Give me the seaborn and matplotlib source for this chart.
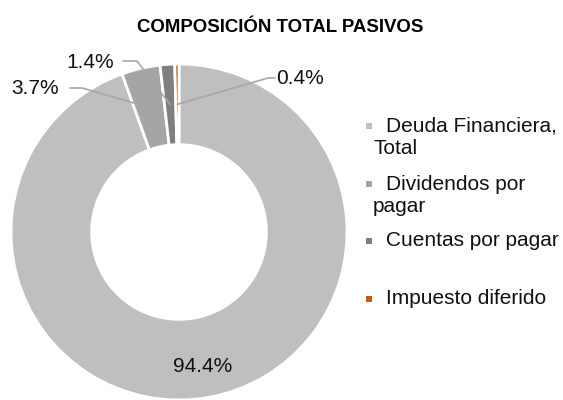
import numpy as np
import matplotlib
matplotlib.use("Agg")
import matplotlib.pyplot as plt
import seaborn as sns
from matplotlib.patches import Rectangle

categories = ["Deuda Financiera, Total", "Dividendos por pagar", "Cuentas por pagar", "Impuesto diferido"]
legend_lines = [["Deuda Financiera,", "Total"], ["Dividendos por", "pagar"], ["Cuentas por pagar"], ["Impuesto diferido"]]
values = [94.4, 3.7, 1.4, 0.4]
labels = ["94.4%", "3.7%", "1.4%", "0.4%"]
colors = ["#BFBFBF", "#A5A5A5", "#7F7F7F", "#C55A11"]
title = "COMPOSICIÓN TOTAL PASIVOS"

sns.set_style("white")
plt.rcParams["font.family"] = ["Liberation Sans", "DejaVu Sans"]

W, H = 563, 400
fig = plt.figure(figsize=(W / 100, H / 100), dpi=100)
cx, cy, R = 179, 232, 168
ax = fig.add_axes([(cx - R) / W, (H - cy - R) / H, 2 * R / W, 2 * R / H])
pal = sns.color_palette(colors)
wedges, _ = ax.pie(values, colors=pal, startangle=90, counterclock=False, radius=1,
                   wedgeprops=dict(width=0.48, edgecolor="white", linewidth=2))
ax.set_xlim(-1, 1)
ax.set_ylim(-1, 1)
ax.set_aspect("equal")
ax.axis("off")

def px2d(px, py):
    return ((px - cx) / R, (cy - py) / R)

# labels
for i, w in enumerate(wedges):
    mid = np.deg2rad((w.theta1 + w.theta2) / 2)
    if i == 0:
        r = 0.81
        ax.text(r * np.cos(mid), r * np.sin(mid), labels[i], ha="center", va="center",
                fontsize=15, color="#111111")
        continue
    anchor = (0.76 * np.cos(mid), 0.76 * np.sin(mid))
    if i == 1:
        elbow = [px2d(70, 88), px2d(82, 88)]
        tpos = px2d(35, 89)
    elif i == 2:
        elbow = [px2d(123, 61), px2d(137, 61)]
        tpos = px2d(90, 62)
    else:
        elbow = [px2d(275, 78), px2d(268, 78)]
        tpos = px2d(300, 79)
    xs = [elbow[0][0], elbow[1][0], anchor[0]]
    ys = [elbow[0][1], elbow[1][1], anchor[1]]
    ax.plot(xs, ys, color="#A6A6A6", lw=1.2, clip_on=False)
    ax.text(tpos[0], tpos[1], labels[i], ha="center", va="center", fontsize=15,
            color="#111111", clip_on=False)

fig.text(280 / W, 1 - 28 / H, title, ha="center", va="center", fontsize=13.4,
         fontweight="bold", color="#000000")

# legend
row_y = [126, 184, 241, 299]
for i, (lines, yy) in enumerate(zip(legend_lines, row_y)):
    fig.patches.append(Rectangle(((366) / W, 1 - (yy + 3) / H), 6 / W, 6 / H,
                                 transform=fig.transFigure, facecolor=colors[i],
                                 edgecolor="none"))
    for j, line in enumerate(lines):
        x = 386 if j == 0 else 373
        fig.text(x / W, 1 - (yy + 22 * j) / H, line, ha="left", va="center",
                 fontsize=15, color="#111111")

fig.savefig("out.png", dpi=100)
